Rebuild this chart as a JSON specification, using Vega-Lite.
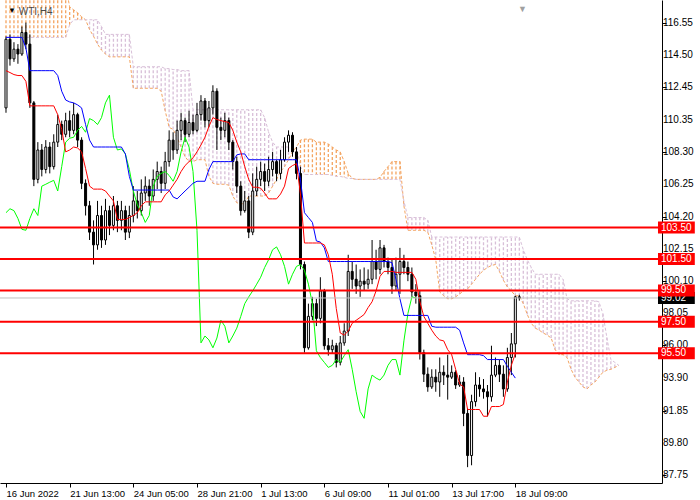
{
"$schema":"https://vega.github.io/schema/vega-lite/v6.json",
"width":662,"height":483,
"autosize":{"type":"none"},
"padding":{"left":0,"top":0,"right":38,"bottom":17},
"background":"white",
"config":{"view":{"stroke":null},"font":"Liberation Sans","axis":{"labelOverlap":false,"labelFlush":false,"labelBound":false,"grid":false}},
"datasets":{
"candles":[
{"i":0,"o":111.12,"h":115.67,"l":110.81,"c":115.49},{"i":1,"o":115.49,"h":115.8,"l":113.81,"c":114.24},{"i":2,"o":114.24,"h":115.3,"l":114.05,"c":114.86},{"i":3,"o":114.86,"h":115.18,"l":113.93,"c":114.55},{"i":4,"o":114.55,"h":116.3,"l":114.43,"c":115.92},{"i":5,"o":115.92,"h":116.55,"l":114.86,"c":115.18},{"i":6,"o":115.18,"h":115.8,"l":111.12,"c":111.44},{"i":7,"o":111.44,"h":111.56,"l":106.14,"c":106.57},{"i":8,"o":106.57,"h":108.94,"l":106.32,"c":108.44},{"i":9,"o":108.44,"h":108.82,"l":106.76,"c":107.2},
{"i":10,"o":107.2,"h":109.07,"l":106.95,"c":108.63},{"i":11,"o":108.63,"h":108.94,"l":106.95,"c":107.38},{"i":12,"o":107.38,"h":109.44,"l":107.2,"c":108.94},{"i":13,"o":108.94,"h":110.69,"l":108.63,"c":110.06},{"i":14,"o":110.06,"h":110.31,"l":109.07,"c":109.44},{"i":15,"o":109.44,"h":110.81,"l":109.25,"c":110.31},{"i":16,"o":110.31,"h":110.94,"l":109.25,"c":109.69},{"i":17,"o":109.69,"h":111.44,"l":109.44,"c":110.69},{"i":18,"o":110.69,"h":110.81,"l":108.63,"c":109.07},{"i":19,"o":109.07,"h":109.25,"l":105.95,"c":106.32},
{"i":20,"o":106.32,"h":106.57,"l":104.27,"c":104.89},{"i":21,"o":104.89,"h":105.2,"l":102.71,"c":103.21},{"i":22,"o":103.21,"h":103.96,"l":101.15,"c":102.4},{"i":23,"o":102.4,"h":105.2,"l":102.09,"c":104.27},{"i":24,"o":104.27,"h":104.89,"l":102.21,"c":102.71},{"i":25,"o":102.71,"h":105.33,"l":102.4,"c":104.58},{"i":26,"o":104.58,"h":104.89,"l":103.02,"c":103.64},{"i":27,"o":103.64,"h":105.51,"l":103.33,"c":104.89},{"i":28,"o":104.89,"h":105.2,"l":103.21,"c":103.96},{"i":29,"o":103.96,"h":105.2,"l":103.33,"c":104.58},
{"i":30,"o":104.58,"h":104.89,"l":102.71,"c":103.21},{"i":31,"o":103.21,"h":104.89,"l":102.83,"c":104.27},{"i":32,"o":104.27,"h":106.14,"l":103.83,"c":105.2},{"i":33,"o":105.2,"h":105.83,"l":104.08,"c":104.58},{"i":34,"o":104.58,"h":106.57,"l":104.27,"c":105.7},{"i":35,"o":105.7,"h":106.76,"l":105.2,"c":106.14},{"i":36,"o":106.14,"h":106.57,"l":104.89,"c":105.51},{"i":37,"o":105.51,"h":107.2,"l":105.2,"c":106.57},{"i":38,"o":106.57,"h":107.7,"l":105.95,"c":107.07},{"i":39,"o":107.07,"h":107.38,"l":105.7,"c":106.32},
{"i":40,"o":106.32,"h":108.32,"l":105.95,"c":107.7},{"i":41,"o":107.7,"h":109.69,"l":107.38,"c":109.07},{"i":42,"o":109.07,"h":109.57,"l":107.82,"c":108.44},{"i":43,"o":108.44,"h":110.31,"l":108.19,"c":109.69},{"i":44,"o":109.69,"h":110.81,"l":109.07,"c":110.31},{"i":45,"o":110.31,"h":110.5,"l":108.94,"c":109.44},{"i":46,"o":109.44,"h":110.94,"l":109.25,"c":110.19},{"i":47,"o":110.19,"h":110.69,"l":109.44,"c":109.69},{"i":48,"o":109.69,"h":111.44,"l":109.57,"c":110.69},{"i":49,"o":110.69,"h":111.93,"l":110.31,"c":111.56},
{"i":50,"o":111.56,"h":111.75,"l":109.88,"c":110.31},{"i":51,"o":110.31,"h":111.56,"l":109.88,"c":111.12},{"i":52,"o":111.12,"h":112.56,"l":110.69,"c":112.18},{"i":53,"o":112.18,"h":112.37,"l":108.44,"c":109.88},{"i":54,"o":109.88,"h":110.5,"l":109.07,"c":109.69},{"i":55,"o":109.69,"h":110.81,"l":109.25,"c":110.31},{"i":56,"o":110.31,"h":110.5,"l":108.44,"c":108.94},{"i":57,"o":108.94,"h":109.07,"l":107.2,"c":107.7},{"i":58,"o":107.7,"h":108.01,"l":105.7,"c":106.14},{"i":59,"o":106.14,"h":106.45,"l":104.27,"c":104.58},
{"i":60,"o":104.58,"h":105.83,"l":104.45,"c":105.2},{"i":61,"o":105.2,"h":105.51,"l":102.83,"c":103.21},{"i":62,"o":103.21,"h":106.95,"l":103.02,"c":105.83},{"i":63,"o":105.83,"h":107.38,"l":105.51,"c":106.57},{"i":64,"o":106.57,"h":107.7,"l":106.14,"c":107.07},{"i":65,"o":107.07,"h":107.57,"l":105.83,"c":106.45},{"i":66,"o":106.45,"h":108.01,"l":106.14,"c":107.2},{"i":67,"o":107.2,"h":108.32,"l":106.76,"c":107.7},{"i":68,"o":107.7,"h":107.82,"l":106.45,"c":106.95},{"i":69,"o":106.95,"h":108.44,"l":106.57,"c":107.82},
{"i":70,"o":107.82,"h":109.25,"l":107.7,"c":108.94},{"i":71,"o":108.94,"h":109.69,"l":108.32,"c":109.38},{"i":72,"o":109.38,"h":109.57,"l":108.01,"c":108.32},{"i":73,"o":108.32,"h":108.63,"l":106.57,"c":106.95},{"i":74,"o":106.95,"h":107.38,"l":100.84,"c":101.15},{"i":75,"o":101.15,"h":101.34,"l":95.54,"c":95.85},{"i":76,"o":95.85,"h":98.66,"l":95.73,"c":97.85},{"i":77,"o":97.85,"h":99.09,"l":97.6,"c":98.66},{"i":78,"o":98.66,"h":98.97,"l":97.23,"c":97.72},{"i":79,"o":97.72,"h":100.34,"l":97.41,"c":99.47},
{"i":80,"o":99.47,"h":99.6,"l":95.73,"c":95.98},{"i":81,"o":95.98,"h":96.47,"l":95.35,"c":95.73},{"i":82,"o":95.73,"h":96.36,"l":95.48,"c":95.98},{"i":83,"o":95.98,"h":96.16,"l":94.6,"c":94.92},{"i":84,"o":94.92,"h":96.6,"l":94.73,"c":96.16},{"i":85,"o":96.16,"h":97.41,"l":95.98,"c":96.91},{"i":86,"o":96.91,"h":101.77,"l":96.6,"c":100.71},{"i":87,"o":100.71,"h":101.34,"l":99.6,"c":100.21},{"i":88,"o":100.21,"h":101.15,"l":99.28,"c":99.78},{"i":89,"o":99.78,"h":100.84,"l":99.09,"c":100.09},
{"i":90,"o":100.09,"h":100.96,"l":99.47,"c":99.9},{"i":91,"o":99.9,"h":100.84,"l":99.6,"c":100.21},{"i":92,"o":100.21,"h":102.71,"l":99.9,"c":101.34},{"i":93,"o":101.34,"h":102.09,"l":100.21,"c":100.84},{"i":94,"o":100.84,"h":102.71,"l":100.53,"c":102.21},{"i":95,"o":102.21,"h":102.4,"l":100.96,"c":101.34},{"i":96,"o":101.34,"h":101.59,"l":100.53,"c":100.96},{"i":97,"o":100.96,"h":101.46,"l":99.28,"c":99.78},{"i":98,"o":99.78,"h":101.59,"l":99.47,"c":100.53},{"i":99,"o":100.53,"h":102.21,"l":99.28,"c":101.34},
{"i":100,"o":101.34,"h":101.77,"l":100.53,"c":100.96},{"i":101,"o":100.96,"h":101.34,"l":100.09,"c":100.53},{"i":102,"o":100.53,"h":100.96,"l":99.09,"c":99.4},{"i":103,"o":99.4,"h":99.9,"l":98.66,"c":99.16},{"i":104,"o":99.16,"h":99.47,"l":95.1,"c":95.54},{"i":105,"o":95.54,"h":95.73,"l":93.67,"c":94.17},{"i":106,"o":94.17,"h":94.6,"l":93.05,"c":93.36},{"i":107,"o":93.36,"h":94.48,"l":93.23,"c":93.98},{"i":108,"o":93.98,"h":94.48,"l":93.05,"c":93.67},{"i":109,"o":93.67,"h":95.23,"l":92.73,"c":94.29},
{"i":110,"o":94.29,"h":94.73,"l":93.48,"c":94.11},{"i":111,"o":94.11,"h":95.41,"l":92.55,"c":93.98},{"i":112,"o":93.98,"h":94.73,"l":93.86,"c":94.29},{"i":113,"o":94.29,"h":94.42,"l":93.23,"c":93.48},{"i":114,"o":93.48,"h":94.11,"l":93.36,"c":93.67},{"i":115,"o":93.67,"h":93.98,"l":90.86,"c":91.67},{"i":116,"o":91.67,"h":91.98,"l":88.25,"c":88.99},{"i":117,"o":88.99,"h":92.86,"l":88.37,"c":92.42},{"i":118,"o":92.42,"h":94.29,"l":92.11,"c":93.48},{"i":119,"o":93.48,"h":93.98,"l":92.73,"c":93.23},
{"i":120,"o":93.23,"h":93.86,"l":92.61,"c":93.05},{"i":121,"o":93.05,"h":93.48,"l":91.48,"c":92.73},{"i":122,"o":92.73,"h":95.98,"l":92.42,"c":94.11},{"i":123,"o":94.11,"h":95.23,"l":93.98,"c":94.73},{"i":124,"o":94.73,"h":95.1,"l":93.67,"c":94.17},{"i":125,"o":94.17,"h":94.73,"l":92.73,"c":93.23},{"i":126,"o":93.23,"h":95.85,"l":93.05,"c":95.23},{"i":127,"o":95.23,"h":96.79,"l":94.11,"c":96.1},{"i":128,"o":96.1,"h":99.16,"l":95.23,"c":99.09},{"i":129,"o":99.09,"h":99.22,"l":98.85,"c":99.02}
],
"lines":[
{"i":0,"t":113.49,"k":115.61},{"i":1,"t":113.37,"k":115.61},{"i":2,"t":113.24,"k":115.61},{"i":3,"t":113.18,"k":115.61},{"i":4,"t":113.18,"k":115.61},{"i":5,"t":112.81,"k":114.93},{"i":6,"t":111.25,"k":113.49},{"i":7,"t":111.25,"k":113.49},{"i":8,"t":111.25,"k":113.49},{"i":9,"t":111.25,"k":113.49},
{"i":10,"t":111.25,"k":113.49},{"i":11,"t":111.25,"k":113.49},{"i":12,"t":111.25,"k":113.49},{"i":13,"t":110.69,"k":113.18},{"i":14,"t":109.75,"k":112.18},{"i":15,"t":108.32,"k":111.62},{"i":16,"t":108.44,"k":111.5},{"i":17,"t":108.63,"k":111.44},{"i":18,"t":108.57,"k":111.31},{"i":19,"t":108.32,"k":111.12},
{"i":20,"t":107.26,"k":110.06},{"i":21,"t":106.14,"k":109.07},{"i":22,"t":105.95,"k":108.63},{"i":23,"t":105.95,"k":108.63},{"i":24,"t":105.95,"k":108.63},{"i":25,"t":105.83,"k":108.63},{"i":26,"t":105.51,"k":108.63},{"i":27,"t":105.2,"k":108.63},{"i":28,"t":104.02,"k":108.63},{"i":29,"t":104.02,"k":108.63},
{"i":30,"t":104.02,"k":108.19},{"i":31,"t":104.14,"k":106.76},{"i":32,"t":104.27,"k":105.89},{"i":33,"t":104.45,"k":105.89},{"i":34,"t":104.89,"k":105.89},{"i":35,"t":105.14,"k":105.89},{"i":36,"t":105.14,"k":105.89},{"i":37,"t":105.14,"k":105.89},{"i":38,"t":105.14,"k":105.89},{"i":39,"t":105.14,"k":105.89},
{"i":40,"t":105.58,"k":105.89},{"i":41,"t":105.83,"k":105.89},{"i":42,"t":106.2,"k":105.45},{"i":43,"t":106.57,"k":105.33},{"i":44,"t":107.07,"k":105.58},{"i":45,"t":107.45,"k":105.83},{"i":46,"t":107.7,"k":106.07},{"i":47,"t":107.94,"k":106.32},{"i":48,"t":108.32,"k":106.45},{"i":49,"t":108.76,"k":106.45},
{"i":50,"t":109.25,"k":106.45},{"i":51,"t":109.94,"k":107.2},{"i":52,"t":110.5,"k":107.7},{"i":53,"t":110.38,"k":107.7},{"i":54,"t":110.31,"k":107.7},{"i":55,"t":110.25,"k":107.7},{"i":56,"t":110.19,"k":107.7},{"i":57,"t":109.69,"k":107.7},{"i":58,"t":108.94,"k":108.13},{"i":59,"t":108.32,"k":108.19},
{"i":60,"t":107.38,"k":108.19},{"i":61,"t":106.57,"k":107.82},{"i":62,"t":106.07,"k":107.82},{"i":63,"t":106.07,"k":107.82},{"i":64,"t":106.01,"k":107.82},{"i":65,"t":105.7,"k":107.82},{"i":66,"t":105.33,"k":107.82},{"i":67,"t":105.33,"k":107.82},{"i":68,"t":105.33,"k":107.82},{"i":69,"t":105.64,"k":107.82},
{"i":70,"t":106.14,"k":107.82},{"i":71,"t":107.26,"k":107.82},{"i":72,"t":107.45,"k":107.82},{"i":73,"t":107.57,"k":107.82},{"i":74,"t":105.64,"k":106.57},{"i":75,"t":102.52,"k":104.45},{"i":76,"t":102.52,"k":104.14},{"i":77,"t":102.52,"k":103.83},{"i":78,"t":102.52,"k":102.65},{"i":79,"t":102.52,"k":102.58},
{"i":80,"t":102.4,"k":102.21},{"i":81,"t":101.77,"k":101.34},{"i":82,"t":100.53,"k":101.34},{"i":83,"t":98.35,"k":101.34},{"i":84,"t":96.79,"k":101.34},{"i":85,"t":96.66,"k":101.34},{"i":86,"t":96.91,"k":101.34},{"i":87,"t":97.41,"k":101.34},{"i":88,"t":97.6,"k":101.34},{"i":89,"t":97.78,"k":101.34},
{"i":90,"t":97.97,"k":101.34},{"i":91,"t":98.41,"k":101.34},{"i":92,"t":98.78,"k":101.34},{"i":93,"t":99.47,"k":101.34},{"i":94,"t":100.4,"k":101.34},{"i":95,"t":100.71,"k":101.34},{"i":96,"t":100.71,"k":101.34},{"i":97,"t":100.71,"k":101.27},{"i":98,"t":100.65,"k":100.21},{"i":99,"t":100.65,"k":98.97},
{"i":100,"t":100.65,"k":97.91},{"i":101,"t":100.65,"k":97.91},{"i":102,"t":100.65,"k":97.91},{"i":103,"t":100.21,"k":97.91},{"i":104,"t":98.78,"k":97.91},{"i":105,"t":97.85,"k":97.91},{"i":106,"t":97.41,"k":97.91},{"i":107,"t":96.97,"k":97.22},{"i":108,"t":96.6,"k":97.16},{"i":109,"t":96.35,"k":97.16},
{"i":110,"t":96.29,"k":97.16},{"i":111,"t":95.73,"k":97.16},{"i":112,"t":95.41,"k":97.16},{"i":113,"t":94.48,"k":97.16},{"i":114,"t":93.54,"k":96.97},{"i":115,"t":93.36,"k":96.16},{"i":116,"t":91.92,"k":95.41},{"i":117,"t":91.92,"k":95.41},{"i":118,"t":91.92,"k":95.41},{"i":119,"t":91.92,"k":95.41},
{"i":120,"t":91.49,"k":95.35},{"i":121,"t":91.49,"k":95.1},{"i":122,"t":92.11,"k":95.1},{"i":123,"t":92.11,"k":95.1},{"i":124,"t":92.11,"k":95.1},{"i":125,"t":92.24,"k":95.1},{"i":126,"t":93.67,"k":94.67},{"i":127,"t":94.73,"k":94.29},{"i":128,"t":95.48,"k":93.92}
],
"chikou":[
{"i":0,"v":104.45},{"i":1,"v":104.7},{"i":2,"v":104.58},{"i":3,"v":104.08},{"i":4,"v":103.39},{"i":5,"v":103.33},{"i":6,"v":104.08},{"i":7,"v":104.7},{"i":8,"v":104.27},{"i":9,"v":106.14},
{"i":10,"v":106.26},{"i":11,"v":106.39},{"i":12,"v":106.51},{"i":13,"v":105.83},{"i":14,"v":107.38},{"i":15,"v":108.94},{"i":16,"v":109.19},{"i":17,"v":109.25},{"i":18,"v":109.69},{"i":19,"v":109.94},
{"i":20,"v":109.57},{"i":21,"v":110.44},{"i":22,"v":110.31},{"i":23,"v":110.06},{"i":24,"v":110.5},{"i":25,"v":111.44},{"i":26,"v":111.93},{"i":27,"v":109.25},{"i":28,"v":108.44},{"i":29,"v":108.51},
{"i":30,"v":108.19},{"i":31,"v":107.2},{"i":32,"v":105.83},{"i":33,"v":104.95},{"i":34,"v":104.45},{"i":35,"v":103.83},{"i":36,"v":104.27},{"i":37,"v":106.14},{"i":38,"v":106.76},{"i":39,"v":106.95},
{"i":40,"v":107.07},{"i":41,"v":106.82},{"i":42,"v":106.45},{"i":43,"v":107.07},{"i":44,"v":108.32},{"i":45,"v":109.25},{"i":46,"v":108.63},{"i":47,"v":107.07},{"i":48,"v":103.33},{"i":49,"v":96.16},
{"i":50,"v":96.6},{"i":51,"v":96.35},{"i":52,"v":95.85},{"i":53,"v":96.47},{"i":54,"v":97.6},{"i":55,"v":97.22},{"i":56,"v":96.16},{"i":57,"v":96.6},{"i":58,"v":97.1},{"i":59,"v":97.85},
{"i":60,"v":98.66},{"i":61,"v":99.09},{"i":62,"v":99.47},{"i":63,"v":99.9},{"i":64,"v":100.34},{"i":65,"v":100.96},{"i":66,"v":101.46},{"i":67,"v":102.09},{"i":68,"v":102.27},{"i":69,"v":101.77},
{"i":70,"v":101.03},{"i":71,"v":99.9},{"i":72,"v":100.53},{"i":73,"v":101.03},{"i":74,"v":101.15},{"i":75,"v":100.78},{"i":76,"v":99.9},{"i":77,"v":98.66},{"i":78,"v":95.66},{"i":79,"v":95.23},
{"i":80,"v":94.92},{"i":81,"v":94.6},{"i":82,"v":94.73},{"i":83,"v":95.1},{"i":84,"v":94.92},{"i":85,"v":95.35},{"i":86,"v":95.73},{"i":87,"v":94.48},{"i":88,"v":93.05},{"i":89,"v":91.8},
{"i":90,"v":91.36},{"i":91,"v":93.23},{"i":92,"v":94.11},{"i":93,"v":93.92},{"i":94,"v":93.79},{"i":95,"v":94.11},{"i":96,"v":94.73},{"i":97,"v":95.1},{"i":98,"v":95.1},{"i":99,"v":94.11},
{"i":100,"v":96.29},{"i":101,"v":98.03},{"i":102,"v":99.09},{"i":103,"v":99.02}
],
"cloud":[
{"i":0,"a":118.92,"b":115.61},{"i":1,"a":118.92,"b":115.61},{"i":2,"a":118.92,"b":115.61},{"i":3,"a":118.92,"b":115.61},{"i":4,"a":118.92,"b":115.61},{"i":5,"a":118.92,"b":115.61},{"i":6,"a":118.92,"b":115.61},{"i":7,"a":118.92,"b":115.61},{"i":8,"a":118.92,"b":115.61},{"i":9,"a":118.92,"b":115.61},
{"i":10,"a":118.92,"b":115.61},{"i":11,"a":118.92,"b":115.61},{"i":12,"a":118.92,"b":115.61},{"i":13,"a":118.92,"b":115.61},{"i":14,"a":118.92,"b":115.61},{"i":15,"a":118.92,"b":115.61},{"i":16,"a":117.55,"b":116.42},{"i":17,"a":117.36,"b":116.73},{"i":18,"a":117.17,"b":116.73},{"i":19,"a":116.92,"b":116.73},
{"i":20,"a":116.73,"b":116.73},{"i":21,"a":116.11,"b":116.73},{"i":22,"a":115.68,"b":116.73},{"i":23,"a":115.18,"b":116.73},{"i":24,"a":114.8,"b":116.3},{"i":25,"a":114.55,"b":115.8},{"i":26,"a":114.37,"b":115.8},{"i":27,"a":114.37,"b":115.8},{"i":28,"a":114.37,"b":115.8},{"i":29,"a":114.37,"b":115.8},
{"i":30,"a":114.37,"b":115.8},{"i":31,"a":114.37,"b":115.8},{"i":32,"a":112.37,"b":113.74},{"i":33,"a":112.37,"b":113.74},{"i":34,"a":112.37,"b":113.74},{"i":35,"a":112.37,"b":113.74},{"i":36,"a":112.37,"b":113.74},{"i":37,"a":112.37,"b":113.74},{"i":38,"a":112.37,"b":113.74},{"i":39,"a":112.18,"b":113.74},
{"i":40,"a":110.94,"b":113.62},{"i":41,"a":109.88,"b":113.62},{"i":42,"a":109.75,"b":113.56},{"i":43,"a":109.25,"b":113.56},{"i":44,"a":108.63,"b":113.49},{"i":45,"a":108.01,"b":113.49},{"i":46,"a":107.7,"b":113.49},{"i":47,"a":107.7,"b":111.0},{"i":48,"a":107.82,"b":111.0},{"i":49,"a":107.82,"b":111.0},
{"i":50,"a":107.82,"b":111.0},{"i":51,"a":106.76,"b":111.0},{"i":52,"a":106.32,"b":111.0},{"i":53,"a":106.26,"b":111.0},{"i":54,"a":106.26,"b":111.0},{"i":55,"a":106.26,"b":111.0},{"i":56,"a":106.2,"b":111.0},{"i":57,"a":105.51,"b":111.0},{"i":58,"a":105.08,"b":111.0},{"i":59,"a":105.02,"b":111.0},
{"i":60,"a":105.02,"b":111.0},{"i":61,"a":105.51,"b":111.0},{"i":62,"a":105.51,"b":111.0},{"i":63,"a":105.51,"b":111.0},{"i":64,"a":105.51,"b":111.0},{"i":65,"a":105.51,"b":110.5},{"i":66,"a":105.7,"b":109.57},{"i":67,"a":106.14,"b":108.94},{"i":68,"a":106.57,"b":108.63},{"i":69,"a":107.07,"b":108.63},
{"i":70,"a":107.38,"b":108.63},{"i":71,"a":107.82,"b":108.63},{"i":72,"a":108.32,"b":108.63},{"i":73,"a":108.63,"b":108.63},{"i":74,"a":109.07,"b":107.38},{"i":75,"a":109.13,"b":106.88},{"i":76,"a":109.13,"b":106.88},{"i":77,"a":109.13,"b":106.88},{"i":78,"a":108.94,"b":106.88},{"i":79,"a":108.94,"b":106.88},
{"i":80,"a":108.94,"b":106.88},{"i":81,"a":108.82,"b":106.88},{"i":82,"a":108.63,"b":106.82},{"i":83,"a":108.44,"b":106.76},{"i":84,"a":108.32,"b":106.76},{"i":85,"a":107.7,"b":106.7},{"i":86,"a":106.95,"b":106.63},{"i":87,"a":106.63,"b":106.63},{"i":88,"a":106.57,"b":106.57},{"i":89,"a":106.57,"b":106.57},
{"i":90,"a":106.57,"b":106.57},{"i":91,"a":106.57,"b":106.57},{"i":92,"a":106.57,"b":106.57},{"i":93,"a":106.57,"b":106.57},{"i":94,"a":106.7,"b":106.57},{"i":95,"a":107.07,"b":106.57},{"i":96,"a":107.38,"b":106.57},{"i":97,"a":107.7,"b":106.57},{"i":98,"a":107.7,"b":106.57},{"i":99,"a":107.7,"b":106.57},
{"i":100,"a":104.89,"b":105.2},{"i":101,"a":103.33,"b":104.14},{"i":102,"a":103.33,"b":104.14},{"i":103,"a":103.33,"b":104.14},{"i":104,"a":103.33,"b":104.14},{"i":105,"a":103.33,"b":104.14},{"i":106,"a":103.21,"b":103.96},{"i":107,"a":102.4,"b":102.9},{"i":108,"a":101.46,"b":102.9},{"i":109,"a":99.4,"b":102.9},
{"i":110,"a":99.16,"b":102.9},{"i":111,"a":98.97,"b":102.9},{"i":112,"a":98.97,"b":102.9},{"i":113,"a":99.09,"b":102.9},{"i":114,"a":99.28,"b":102.9},{"i":115,"a":99.47,"b":102.9},{"i":116,"a":99.59,"b":102.9},{"i":117,"a":99.9,"b":102.9},{"i":118,"a":100.21,"b":102.9},{"i":119,"a":100.53,"b":102.9},
{"i":120,"a":100.78,"b":102.9},{"i":121,"a":100.96,"b":102.9},{"i":122,"a":101.09,"b":102.9},{"i":123,"a":101.15,"b":102.9},{"i":124,"a":100.71,"b":102.9},{"i":125,"a":100.15,"b":102.9},{"i":126,"a":99.72,"b":102.9},{"i":127,"a":99.47,"b":102.9},{"i":128,"a":99.16,"b":102.9},{"i":129,"a":99.16,"b":102.9},
{"i":130,"a":98.66,"b":102.09},{"i":131,"a":97.97,"b":101.46},{"i":132,"a":97.41,"b":100.96},{"i":133,"a":97.1,"b":100.53},{"i":134,"a":96.97,"b":100.53},{"i":135,"a":96.79,"b":100.53},{"i":136,"a":96.66,"b":100.53},{"i":137,"a":96.47,"b":100.53},{"i":138,"a":95.73,"b":100.53},{"i":139,"a":95.41,"b":100.53},
{"i":140,"a":95.41,"b":100.21},{"i":141,"a":95.23,"b":98.97},{"i":142,"a":94.48,"b":98.84},{"i":143,"a":93.98,"b":98.84},{"i":144,"a":93.67,"b":98.84},{"i":145,"a":93.36,"b":98.84},{"i":146,"a":93.23,"b":98.84},{"i":147,"a":93.48,"b":98.84},{"i":148,"a":93.67,"b":98.84},{"i":149,"a":93.98,"b":98.78},
{"i":150,"a":94.29,"b":98.03},{"i":151,"a":94.42,"b":96.5},{"i":152,"a":94.48,"b":95.1},{"i":153,"a":94.6,"b":94.92},{"i":154,"a":94.73,"b":94.73}
],
"yticks":[
{"price":116.55,"label":"116.55"},{"price":114.5,"label":"114.50"},{"price":112.45,"label":"112.45"},{"price":110.35,"label":"110.35"},{"price":108.3,"label":"108.30"},{"price":106.25,"label":"106.25"},{"price":104.2,"label":"104.20"},{"price":102.15,"label":"102.15"},{"price":100.1,"label":"100.10"},{"price":98.05,"label":"98.05"},{"price":96.0,"label":"96.00"},{"price":93.9,"label":"93.90"},{"price":91.85,"label":"91.85"},{"price":89.8,"label":"89.80"},{"price":87.75,"label":"87.75"}
],
"levels":[
{"price":103.5,"label":"103.50"},{"price":101.5,"label":"101.50"},{"price":99.5,"label":"99.50"},{"price":97.5,"label":"97.50"},{"price":95.5,"label":"95.50"}
],
"bid":[{"price":99.02,"label":"99.02"}]
},
"layer":[
{"data":{"name":"cloud"},"mark":{"type":"rule","strokeWidth":1.3,"strokeDash":[3,2],"clip":true},
 "encoding":{
  "x":{"field":"i","type":"quantitative","title":null,"scale":{"domain":[-0.25,163.6],"nice":false,"zero":false},
   "axis":{"title":null,"values":[0,16,32,48,64,80,96,112,128],"labelExpr":"['16 Jun 2022','21 Jun 13:00','24 Jun 05:00','28 Jun 21:00','1 Jul 13:00','6 Jul 09:00','11 Jul 01:00','13 Jul 17:00','18 Jul 09:00'][round(datum.value/16)]","labelAlign":"left","labelFontSize":9.5,"labelFont":"Liberation Sans","labelColor":"black","tickColor":"black","domainColor":"black","tickSize":4,"labelPadding":1,"grid":false,"labelFlush":false,"labelOverlap":false,"labelBound":false}},
  "y":{"field":"a","type":"quantitative","title":null,"scale":{"domain":[87.56,117.67],"nice":false,"zero":false},
   "axis":{"title":null,"orient":"right","values":[116.55,114.5,112.45,110.35,108.3,106.25,104.2,102.15,100.1,98.05,96,93.9,91.85,89.8,87.75],"labels":false,"tickColor":"black","domainColor":"black","tickSize":4,"grid":false}},
  "y2":{"field":"b"},
  "color":{"condition":{"test":"datum.a > datum.b","value":"#F4A460"},"value":"#D8BFD8"}
 }},
{"data":{"name":"cloud"},"mark":{"type":"line","stroke":"#F4A460","strokeWidth":1,"strokeDash":[3,2],"clip":true},
 "encoding":{"x":{"field":"i","type":"quantitative","title":null,"scale":{"domain":[-0.25,163.6],"nice":false,"zero":false}},
  "y":{"field":"a","type":"quantitative","title":null,"scale":{"domain":[87.56,117.67],"nice":false,"zero":false}}}},
{"data":{"name":"cloud"},"mark":{"type":"line","stroke":"#D8BFD8","strokeWidth":1,"strokeDash":[3,2],"clip":true},
 "encoding":{"x":{"field":"i","type":"quantitative","title":null,"scale":{"domain":[-0.25,163.6],"nice":false,"zero":false}},
  "y":{"field":"b","type":"quantitative","title":null,"scale":{"domain":[87.56,117.67],"nice":false,"zero":false}}}},
{"data":{"name":"candles"},"mark":{"type":"rule","stroke":"black","strokeWidth":1},
 "encoding":{"x":{"field":"i","type":"quantitative","title":null,"scale":{"domain":[-0.25,163.6],"nice":false,"zero":false}},
  "y":{"field":"l","type":"quantitative","title":null,"scale":{"domain":[87.56,117.67],"nice":false,"zero":false}},"y2":{"field":"h"}}},
{"data":{"name":"candles"},"mark":{"type":"bar","size":2,"stroke":"black","strokeWidth":1},
 "encoding":{"x":{"field":"i","type":"quantitative","title":null,"scale":{"domain":[-0.25,163.6],"nice":false,"zero":false}},
  "y":{"field":"o","type":"quantitative","title":null,"scale":{"domain":[87.56,117.67],"nice":false,"zero":false}},"y2":{"field":"c"},
  "fill":{"condition":{"test":"datum.c > datum.o","value":"white"},"value":"black"}}},
{"data":{"name":"chikou"},"mark":{"type":"line","stroke":"#00FF00","strokeWidth":1},
 "encoding":{"x":{"field":"i","type":"quantitative","title":null,"scale":{"domain":[-0.25,163.6],"nice":false,"zero":false}},
  "y":{"field":"v","type":"quantitative","title":null,"scale":{"domain":[87.56,117.67],"nice":false,"zero":false}}}},
{"data":{"name":"lines"},"mark":{"type":"line","stroke":"#0000FF","strokeWidth":1},
 "encoding":{"x":{"field":"i","type":"quantitative","title":null,"scale":{"domain":[-0.25,163.6],"nice":false,"zero":false}},
  "y":{"field":"k","type":"quantitative","title":null,"scale":{"domain":[87.56,117.67],"nice":false,"zero":false}}}},
{"data":{"name":"lines"},"mark":{"type":"line","stroke":"#FF0000","strokeWidth":1},
 "encoding":{"x":{"field":"i","type":"quantitative","title":null,"scale":{"domain":[-0.25,163.6],"nice":false,"zero":false}},
  "y":{"field":"t","type":"quantitative","title":null,"scale":{"domain":[87.56,117.67],"nice":false,"zero":false}}}},
{"data":{"name":"yticks"},"mark":{"type":"text","align":"left","baseline":"middle","fontSize":10,"font":"Liberation Sans","color":"black"},
 "encoding":{"x":{"datum":165.1,"type":"quantitative","title":null,"scale":{"domain":[-0.25,163.6],"nice":false,"zero":false}},
  "y":{"field":"price","type":"quantitative","title":null,"scale":{"domain":[87.56,117.67],"nice":false,"zero":false}},"text":{"field":"label"}}},
{"data":{"name":"bid"},"mark":{"type":"rule","stroke":"#C0C0C0","strokeWidth":1},
 "encoding":{"y":{"field":"price","type":"quantitative","title":null,"scale":{"domain":[87.56,117.67],"nice":false,"zero":false}}}},
{"data":{"name":"levels"},"mark":{"type":"rule","stroke":"#FF0000","strokeWidth":2},
 "encoding":{"y":{"field":"price","type":"quantitative","title":null,"scale":{"domain":[87.56,117.67],"nice":false,"zero":false}}}},
{"data":{"name":"bid"},"mark":{"type":"bar","orient":"horizontal","size":12,"fill":"black"},
 "encoding":{"x":{"datum":163.85,"type":"quantitative","title":null,"scale":{"domain":[-0.25,163.6],"nice":false,"zero":false}},"x2":{"datum":173.1},
  "y":{"field":"price","type":"quantitative","title":null,"scale":{"domain":[87.56,117.67],"nice":false,"zero":false}}}},
{"data":{"name":"bid"},"mark":{"type":"text","align":"left","baseline":"middle","fontSize":10,"font":"Liberation Sans","color":"white"},
 "encoding":{"x":{"datum":164.6,"type":"quantitative","title":null,"scale":{"domain":[-0.25,163.6],"nice":false,"zero":false}},
  "y":{"field":"price","type":"quantitative","title":null,"scale":{"domain":[87.56,117.67],"nice":false,"zero":false}},"text":{"field":"label"}}},
{"data":{"name":"levels"},"mark":{"type":"bar","orient":"horizontal","size":12,"fill":"#FF0000"},
 "encoding":{"x":{"datum":163.85,"type":"quantitative","title":null,"scale":{"domain":[-0.25,163.6],"nice":false,"zero":false}},"x2":{"datum":173.1},
  "y":{"field":"price","type":"quantitative","title":null,"scale":{"domain":[87.56,117.67],"nice":false,"zero":false}}}},
{"data":{"name":"levels"},"mark":{"type":"text","align":"left","baseline":"middle","fontSize":10,"font":"Liberation Sans","color":"white"},
 "encoding":{"x":{"datum":164.6,"type":"quantitative","title":null,"scale":{"domain":[-0.25,163.6],"nice":false,"zero":false}},
  "y":{"field":"price","type":"quantitative","title":null,"scale":{"domain":[87.56,117.67],"nice":false,"zero":false}},"text":{"field":"label"}}},
{"data":{"values":[{"t":"WTI,H4"}]},"mark":{"type":"text","align":"left","baseline":"middle","fontSize":10,"font":"Liberation Sans","color":"#4a4a4a"},
 "encoding":{"x":{"datum":3.2,"type":"quantitative","title":null,"scale":{"domain":[-0.25,163.6],"nice":false,"zero":false}},
  "y":{"datum":117.22,"type":"quantitative","title":null,"scale":{"domain":[87.56,117.67],"nice":false,"zero":false}},"text":{"field":"t"}}},
{"data":{"values":[{"t":"▼"}]},"mark":{"type":"text","align":"left","baseline":"middle","fontSize":8,"color":"black"},
 "encoding":{"x":{"datum":0.5,"type":"quantitative","title":null,"scale":{"domain":[-0.25,163.6],"nice":false,"zero":false}},
  "y":{"datum":117.3,"type":"quantitative","title":null,"scale":{"domain":[87.56,117.67],"nice":false,"zero":false}},"text":{"field":"t"}}},
{"data":{"values":[{"t":"▼"}]},"mark":{"type":"text","align":"center","baseline":"middle","fontSize":9,"color":"#A0A0A0"},
 "encoding":{"x":{"datum":129.8,"type":"quantitative","title":null,"scale":{"domain":[-0.25,163.6],"nice":false,"zero":false}},
  "y":{"datum":117.4,"type":"quantitative","title":null,"scale":{"domain":[87.56,117.67],"nice":false,"zero":false}},"text":{"field":"t"}}}
]
}
